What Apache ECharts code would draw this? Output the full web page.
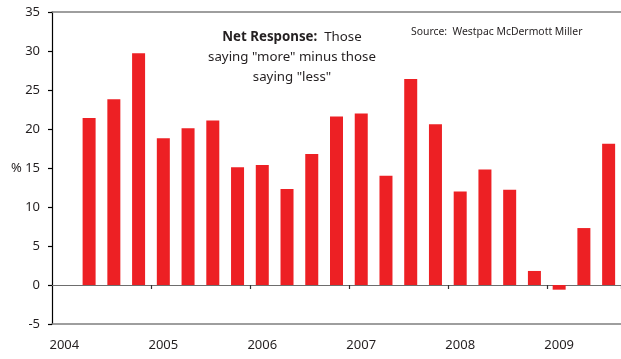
<!DOCTYPE html>
<html>
<head>
<meta charset="utf-8">
<script src="https://cdn.jsdelivr.net/npm/echarts@6/dist/echarts.min.js"></script>
<style>
  html, body { margin: 0; padding: 0; background: #fff; }
  #chart { width: 621px; height: 359px; }
</style>
</head>
<body>
<div id="chart"></div>
<script>
// Quarterly slots from 2004 Q1 to 2009 Q3
const quarters = [
  '2004 Q1', '2004 Q2', '2004 Q3', '2004 Q4',
  '2005 Q1', '2005 Q2', '2005 Q3', '2005 Q4',
  '2006 Q1', '2006 Q2', '2006 Q3', '2006 Q4',
  '2007 Q1', '2007 Q2', '2007 Q3', '2007 Q4',
  '2008 Q1', '2008 Q2', '2008 Q3', '2008 Q4',
  '2009 Q1', '2009 Q2', '2009 Q3'
];

// Net response (%): those saying "more" minus those saying "less"
const netResponse = [
  null, 21.4, 23.8, 29.7,
  18.8, 20.1, 21.1, 15.1,
  15.4, 12.3, 16.8, 21.6,
  22.0, 14.0, 26.4, 20.6,
  12.0, 14.8, 12.2, 1.8,
  -0.6, 7.3, 18.1
];

const yTicks = { min: -5, max: 35, interval: 5 };

const fontFamily = '"Noto Sans", "Open Sans", sans-serif';
const textColor = '#231f20';

const chart = echarts.init(document.getElementById('chart'), null, { renderer: 'canvas' });

chart.setOption({
  animation: false,
  grid: { left: 52, top: 12, width: 570, height: 312 },
  xAxis: [
    {
      // axis along the zero line, with ticks at year boundaries
      type: 'category',
      data: quarters,
      boundaryGap: true,
      axisLine: { onZero: true, lineStyle: { color: '#6d6d6d', width: 1.2 } },
      axisTick: {
        show: true, length: 4,
        interval: (i) => i % 4 === 0 && i > 0,
        lineStyle: { color: '#333', width: 1.2 }
      },
      axisLabel: { show: false },
      splitLine: { show: false }
    },
    {
      // bottom frame line carrying the year labels
      type: 'category',
      data: quarters,
      position: 'bottom',
      boundaryGap: true,
      axisLine: { show: true, onZero: false, lineStyle: { color: '#7f7f7f', width: 1.5 } },
      axisTick: { show: false },
      axisLabel: {
        interval: (i) => i % 4 === 0,
        formatter: (v) => v.slice(0, 4),
        margin: 15,
        color: textColor,
        fontFamily: fontFamily,
        fontSize: 13
      },
      splitLine: { show: false }
    },
    {
      // top frame line
      type: 'category',
      data: quarters,
      position: 'top',
      axisLine: { show: true, onZero: false, lineStyle: { color: '#7f7f7f', width: 1.5 } },
      axisTick: { show: false },
      axisLabel: { show: false },
      splitLine: { show: false }
    }
  ],
  yAxis: {
    type: 'value',
    min: yTicks.min,
    max: yTicks.max,
    interval: yTicks.interval,
    axisLine: { show: true, onZero: false, lineStyle: { color: '#000', width: 1.2 } },
    axisTick: { show: true, length: 4, lineStyle: { color: '#000', width: 1.2 } },
    axisLabel: {
      margin: 12,
      color: textColor,
      fontFamily: fontFamily,
      fontSize: 13,
      formatter: (v) => (v === 15 ? '% 15' : String(v))
    },
    splitLine: { show: false }
  },
  series: [
    {
      type: 'bar',
      xAxisIndex: 0,
      data: netResponse,
      barWidth: 13,
      itemStyle: { color: '#ed2024' }
    }
  ],
  graphic: [
    {
      type: 'text',
      x: 292, y: 27,
      style: {
        text: '{b|Net Response:}  Those\nsaying "more" minus those\nsaying "less"',
        align: 'center',
        verticalAlign: 'top',
        fill: textColor,
        fontFamily: fontFamily,
        fontSize: 13.3,
        lineHeight: 20,
        rich: {
          b: { fontWeight: 'bold', fontFamily: fontFamily, fontSize: 13.3, fill: textColor, lineHeight: 20 }
        }
      }
    },
    {
      type: 'text',
      x: 411, y: 27,
      style: {
        text: 'Source:  Westpac McDermott Miller',
        align: 'left',
        verticalAlign: 'top',
        fill: textColor,
        fontFamily: fontFamily,
        fontSize: 10.4
      }
    }
  ]
});
</script>
</body>
</html>
